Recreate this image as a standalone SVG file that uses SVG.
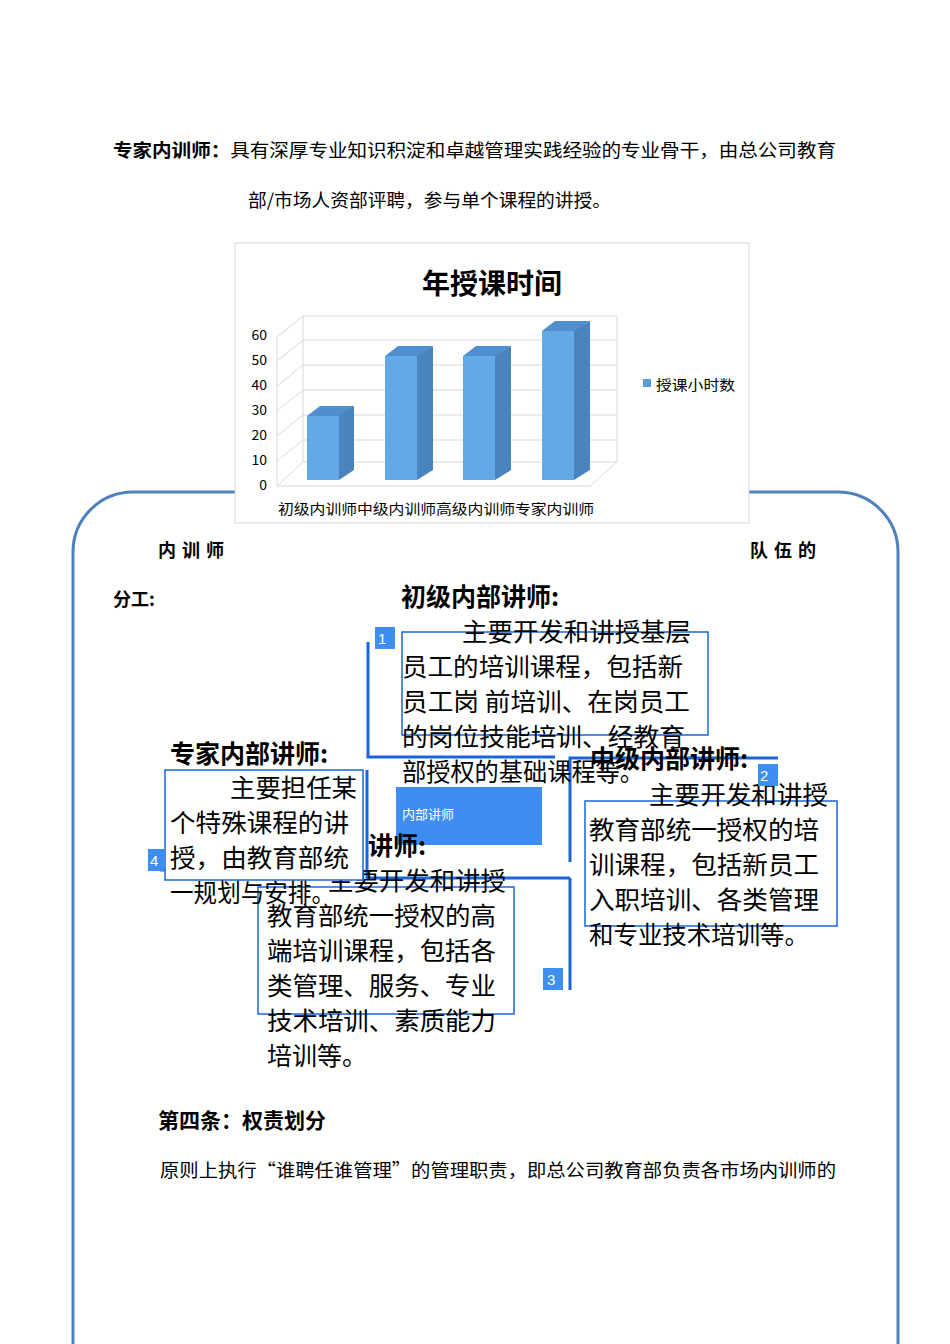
<svg xmlns="http://www.w3.org/2000/svg" width="950" height="1344" viewBox="0 0 950 1344">
<style>
text{font-family:"Noto Sans CJK SC","Noto Sans",sans-serif;fill:#000}
.p{font-size:18px}
.b{font-weight:bold}
.big{font-size:25px}
.box{fill:none;stroke:#1a66d9;stroke-width:1.5}
.ln{fill:none;stroke:#1a66d9;stroke-width:3}
.grid{stroke:#d9d9d9;stroke-width:1;fill:none}
.num{fill:#3d8ef0}
.nt{fill:#fff;font-size:15px;font-family:"Liberation Sans",sans-serif}
.ax{font-size:14px}
</style>
<rect width="950" height="1344" fill="#fff"/>
<path d="M73 1344 V552 A60 60 0 0 1 133 492 H838 A60 60 0 0 1 898 552 V1344" fill="none" stroke="#4f81bd" stroke-width="3"/>
<text class="p" x="113" y="157" textLength="723" lengthAdjust="spacingAndGlyphs"><tspan class="b">专家内训师：</tspan>具有深厚专业知识积淀和卓越管理实践经验的专业骨干，由总公司教育</text>
<text class="p" x="248" y="207" textLength="363" lengthAdjust="spacingAndGlyphs">部/市场人资部评聘，参与单个课程的讲授。</text>
<g id="chart">
<rect x="235" y="243" width="514" height="280" fill="#fff" stroke="#d9d9d9"/>
<text x="492" y="294" text-anchor="middle" font-size="28" class="b">年授课时间</text>
<path class="grid" d="M303 316 V462 H617 V316 H303 M277 337 L303 316 M277 486 V337 M277 486 L303 462 M277 486 H590 L617 462"/>
<g class="grid">
<path d="M303 340 H617 M277 361 L303 340 M303 365 H617 M277 386 L303 365 M303 390 H617 M277 411 L303 390 M303 415 H617 M277 436 L303 415 M303 440 H617 M277 461 L303 440"/>
</g>
<g class="ax" text-anchor="end">
<text x="267" y="340">60</text><text x="267" y="365">50</text><text x="267" y="390">40</text><text x="267" y="415">30</text><text x="267" y="440">20</text><text x="267" y="465">10</text><text x="267" y="490">0</text>
</g>
<g>
<path d="M307 416 L320 406 H354 L341 416Z" fill="#4f8fd0"/><path d="M339 416 L354 406 V470 L339 480Z" fill="#4a84bf"/><rect x="307" y="416" width="32" height="64" fill="#62a9e6"/>
<path d="M385 356 L398 346 H433 L418 356Z" fill="#4f8fd0"/><path d="M417 356 L433 346 V470 L417 480Z" fill="#4a84bf"/><rect x="385" y="356" width="32" height="124" fill="#62a9e6"/>
<path d="M463 356 L476 346 H511 L496 356Z" fill="#4f8fd0"/><path d="M495 356 L511 346 V470 L495 480Z" fill="#4a84bf"/><rect x="463" y="356" width="32" height="124" fill="#62a9e6"/>
<path d="M542 331 L555 321 H590 L575 331Z" fill="#4f8fd0"/><path d="M574 331 L590 321 V470 L574 480Z" fill="#4a84bf"/><rect x="542" y="331" width="32" height="149" fill="#62a9e6"/>
</g>
<rect x="643" y="379" width="8" height="8" fill="#5b9bd5"/>
<text class="ax" x="656" y="390" textLength="79" lengthAdjust="spacingAndGlyphs">授课小时数</text>
<text class="ax" x="278" y="514" textLength="316" lengthAdjust="spacingAndGlyphs">初级内训师中级内训师高级内训师专家内训师</text>
</g>
<text class="p b" x="158" y="557" letter-spacing="6">内训师</text>
<text class="p b" x="750" y="557" letter-spacing="6">队伍的</text>
<text class="p b" x="113" y="606">分工:</text>
<g id="connectors">
<path class="ln" d="M368 642 V757 H555"/>
<path class="ln" d="M570 862 V758 H778"/>
<path class="ln" d="M570 878 V990"/>
<path class="ln" d="M367 770 V878 H570"/>
<path class="ln" d="M160 870 H170"/>
</g>
<g id="center"><rect x="396" y="787" width="146" height="58" fill="#3d8ef0"/><text x="402" y="819" font-size="13" style="fill:#fff">内部讲师</text></g>
<g id="n3">
<text class="big b" x="368" y="855">讲师:</text>
<rect class="box" x="258" y="887" width="256" height="127"/>
<text class="big"><tspan x="328" y="890" textLength="178" lengthAdjust="spacingAndGlyphs">主要开发和讲授</tspan><tspan x="267" y="925" textLength="229" lengthAdjust="spacingAndGlyphs">教育部统一授权的高</tspan><tspan x="267" y="960" textLength="229" lengthAdjust="spacingAndGlyphs">端培训课程，包括各</tspan><tspan x="267" y="995" textLength="229" lengthAdjust="spacingAndGlyphs">类管理、服务、专业</tspan><tspan x="267" y="1030" textLength="229" lengthAdjust="spacingAndGlyphs">技术培训、素质能力</tspan><tspan x="267" y="1065">培训等。</tspan></text>
<rect class="num" x="543" y="968" width="20" height="22"/><text class="nt" x="547" y="985">3</text>
</g>
<g id="n1">
<text class="big b" x="401" y="606">初级内部讲师:</text>
<rect class="box" x="402" y="632" width="306" height="103"/>
<text class="big"><tspan x="462" y="641" textLength="229" lengthAdjust="spacingAndGlyphs">主要开发和讲授基层</tspan><tspan x="402" y="676" textLength="281" lengthAdjust="spacingAndGlyphs">员工的培训课程，包括新</tspan><tspan x="402" y="711" textLength="288" lengthAdjust="spacingAndGlyphs">员工岗 前培训、在岗员工</tspan><tspan x="402" y="746" textLength="283" lengthAdjust="spacingAndGlyphs">的岗位技能培训、经教育</tspan><tspan x="402" y="781" textLength="242" lengthAdjust="spacingAndGlyphs">部授权的基础课程等。</tspan></text>
<rect class="num" x="375" y="627" width="20" height="22"/><text class="nt" x="378" y="644">1</text>
</g>
<g id="n2">
<text class="big b" x="590" y="768">中级内部讲师:</text>
<rect class="box" x="585" y="801" width="252" height="125"/>
<text class="big"><tspan x="649" y="804" textLength="179" lengthAdjust="spacingAndGlyphs">主要开发和讲授</tspan><tspan x="589" y="839" textLength="230" lengthAdjust="spacingAndGlyphs">教育部统一授权的培</tspan><tspan x="589" y="874" textLength="230" lengthAdjust="spacingAndGlyphs">训课程，包括新员工</tspan><tspan x="589" y="909" textLength="230" lengthAdjust="spacingAndGlyphs">入职培训、各类管理</tspan><tspan x="589" y="944" textLength="220" lengthAdjust="spacingAndGlyphs">和专业技术培训等。</tspan></text>
<rect class="num" x="758" y="764" width="20" height="22"/><text class="nt" x="760" y="781">2</text>
</g>
<g id="n4">
<text class="big b" x="170" y="763">专家内部讲师:</text>
<rect fill="#fff" x="165" y="770" width="198" height="110"/>
<rect class="box" x="165" y="770" width="198" height="110"/>
<text class="big"><tspan x="230" y="797" textLength="127" lengthAdjust="spacingAndGlyphs">主要担任某</tspan><tspan x="170" y="832" textLength="179" lengthAdjust="spacingAndGlyphs">个特殊课程的讲</tspan><tspan x="170" y="867" textLength="179" lengthAdjust="spacingAndGlyphs">授，由教育部统</tspan><tspan x="170" y="902" textLength="165" lengthAdjust="spacingAndGlyphs">一规划与安排。</tspan></text>
<rect class="num" x="148" y="849" width="16" height="22"/><text class="nt" x="150" y="866">4</text>
</g>
<text class="b" x="158" y="1128" font-size="21">第四条：权责划分</text>
<text class="p" x="160" y="1177" textLength="676" lengthAdjust="spacingAndGlyphs">原则上执行“谁聘任谁管理”的管理职责，即总公司教育部负责各市场内训师的</text>
</svg>
